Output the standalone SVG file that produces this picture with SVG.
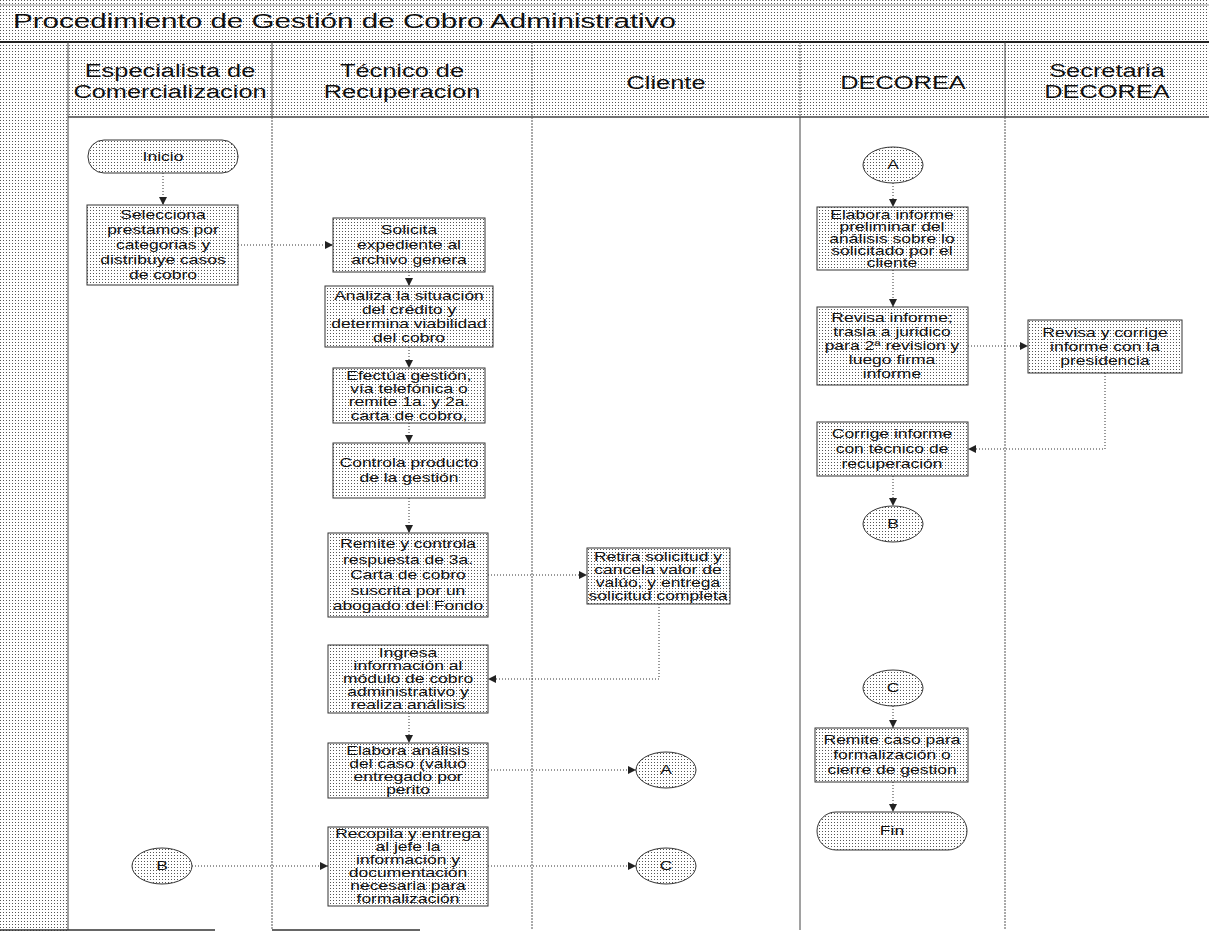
<svg xmlns="http://www.w3.org/2000/svg" width="1209" height="933" viewBox="0 0 1209 933">
<defs>
<pattern id="st" width="3" height="3" patternUnits="userSpaceOnUse"><rect width="3" height="3" fill="#fff"/><rect width="1" height="1" fill="#555"/></pattern>
<marker id="ah" markerWidth="8" markerHeight="8" refX="8" refY="4" orient="auto" markerUnits="userSpaceOnUse"><path d="M0,0 L8,4 L0,8 z" fill="#222"/></marker>
</defs>
<style>
.t{font-family:"Liberation Sans",Arial,sans-serif;font-size:12.5px;fill:#111;text-anchor:middle}
.h{font-family:"Liberation Sans",Arial,sans-serif;font-size:18px;fill:#111;text-anchor:middle}
.ttl{font-family:"Liberation Sans",Arial,sans-serif;font-size:21px;fill:#111}
.box{fill:url(#st);stroke:#333;stroke-width:1}
.c{fill:none;stroke:#333;stroke-width:1;stroke-dasharray:1 2;marker-end:url(#ah)}
.ls{stroke:#444;stroke-width:1}
.ld{stroke:#555;stroke-width:1;stroke-dasharray:2 1}
</style>
<rect width="1209" height="933" fill="#fff"/>
<g id="background">
<rect x="0" y="0" width="1209" height="117" fill="url(#st)"/>
<rect x="0" y="117" width="68" height="816" fill="url(#st)"/>
<line x1="0" y1="5" x2="1209" y2="5" stroke="#999"/>
<line x1="0" y1="42" x2="1209" y2="42" stroke="#222" stroke-width="2"/>
<line x1="68" y1="117" x2="1209" y2="117" stroke="#444" stroke-width="1.5"/>
<line class="ls" x1="68" y1="42" x2="68" y2="930"/>
<line class="ls" x1="272" y1="42" x2="272" y2="117"/>
<line class="ld" x1="272" y1="117" x2="272" y2="930"/>
<line class="ld" x1="532" y1="42" x2="532" y2="930"/>
<line class="ld" x1="800" y1="42" x2="800" y2="117"/>
<line class="ls" x1="800" y1="117" x2="800" y2="930"/>
<line class="ls" x1="1005" y1="42" x2="1005" y2="117"/>
<line class="ld" x1="1005" y1="117" x2="1005" y2="930"/>
<line x1="0" y1="930" x2="215" y2="930" stroke="#333" stroke-width="1.5"/>
<line x1="272" y1="930" x2="420" y2="930" stroke="#333" stroke-width="1.5"/>
</g>
<g id="title"><text class="ttl" transform="translate(13 0) scale(1.41 1)" x="0" y="28">Procedimiento de Gestión de Cobro Administrativo</text></g>
<g id="headers">
<text class="h" transform="translate(170 0) scale(1.41 1)"><tspan x="0" y="77">Especialista de</tspan><tspan x="0" y="98">Comercializacion</tspan></text>
<text class="h" transform="translate(402 0) scale(1.41 1)"><tspan x="0" y="77">Técnico de</tspan><tspan x="0" y="98">Recuperacion</tspan></text>
<text class="h" transform="translate(666 0) scale(1.41 1)" x="0" y="89">Cliente</text>
<text class="h" transform="translate(903 0) scale(1.41 1)" x="0" y="89">DECOREA</text>
<text class="h" transform="translate(1107 0) scale(1.41 1)"><tspan x="0" y="77">Secretaria</tspan><tspan x="0" y="98">DECOREA</tspan></text>
</g>
<g id="connectors">
<path class="c" d="M163,173 V205"/>
<path class="c" d="M238,245 H333"/>
<path class="c" d="M409,272 V286"/>
<path class="c" d="M409,347 V368"/>
<path class="c" d="M409,423 V443"/>
<path class="c" d="M409,498 V533"/>
<path class="c" d="M488,575 H587"/>
<path class="c" d="M659,604 V679 H488"/>
<path class="c" d="M409,713 V743"/>
<path class="c" d="M488,770 H636"/>
<path class="c" d="M192,866 H328"/>
<path class="c" d="M488,866 H636"/>
<path class="c" d="M893,183 V207"/>
<path class="c" d="M893,270 V307"/>
<path class="c" d="M968,346 H1028"/>
<path class="c" d="M1105,373 V449 H968"/>
<path class="c" d="M893,476 V506"/>
<path class="c" d="M893,706 V728"/>
<path class="c" d="M893,782 V812"/>
</g>
<g id="inicio"><rect class="box" x="88" y="140" width="150" height="33" rx="16"/><text class="t" transform="translate(163 0) scale(1.4 1)" x="0" y="161">Inicio</text></g>
<g id="selecciona"><rect class="box" x="87" y="205" width="151" height="80"/><text class="t" transform="translate(163 0) scale(1.4 1)"><tspan x="0" y="219.5">Selecciona</tspan><tspan x="0" y="234.5">prestamos por</tspan><tspan x="0" y="249.5">categorias y</tspan><tspan x="0" y="264.5">distribuye casos</tspan><tspan x="0" y="279.5">de cobro</tspan></text></g>
<g id="b1"><ellipse class="box" cx="162" cy="866" rx="30" ry="18"/><text class="t" transform="translate(162 0) scale(1.4 1)" x="0" y="870.5">B</text></g>
<g id="solicita"><rect class="box" x="333" y="218" width="152" height="54"/><text class="t" transform="translate(409 0) scale(1.4 1)"><tspan x="0" y="234.5">Solicita</tspan><tspan x="0" y="249.5">expediente al</tspan><tspan x="0" y="264.5">archivo genera</tspan></text></g>
<g id="analiza"><rect class="box" x="325" y="286" width="168" height="61"/><text class="t" transform="translate(409 0) scale(1.4 1)"><tspan x="0" y="300">Analiza la situación</tspan><tspan x="0" y="314">del crédito y</tspan><tspan x="0" y="328">determina viabilidad</tspan><tspan x="0" y="342">del cobro</tspan></text></g>
<g id="efectua"><rect class="box" x="333" y="368" width="152" height="55"/><text class="t" transform="translate(409 0) scale(1.4 1)"><tspan x="0" y="380.5">Efectúa gestión,</tspan><tspan x="0" y="393.5">vía telefónica o</tspan><tspan x="0" y="406.5">remite 1a. y 2a.</tspan><tspan x="0" y="419.5">carta de cobro,</tspan></text></g>
<g id="controla"><rect class="box" x="333" y="443" width="152" height="55"/><text class="t" transform="translate(409 0) scale(1.4 1)"><tspan x="0" y="467.5">Controla producto</tspan><tspan x="0" y="482.5">de la gestión</tspan></text></g>
<g id="remite"><rect class="box" x="328" y="533" width="160" height="84"/><text class="t" transform="translate(408 0) scale(1.4 1)"><tspan x="0" y="548.5">Remite y controla</tspan><tspan x="0" y="564">respuesta de 3a.</tspan><tspan x="0" y="579.5">Carta de cobro</tspan><tspan x="0" y="595">suscrita por un</tspan><tspan x="0" y="610.5">abogado del Fondo</tspan></text></g>
<g id="ingresa"><rect class="box" x="328" y="645" width="160" height="68"/><text class="t" transform="translate(408 0) scale(1.4 1)"><tspan x="0" y="657.5">Ingresa</tspan><tspan x="0" y="670.5">información al</tspan><tspan x="0" y="683.5">módulo de cobro</tspan><tspan x="0" y="696.5">administrativo y</tspan><tspan x="0" y="709.5">realiza análisis</tspan></text></g>
<g id="elabora-analisis"><rect class="box" x="328" y="743" width="160" height="55"/><text class="t" transform="translate(408 0) scale(1.4 1)"><tspan x="0" y="755.5">Elabora análisis</tspan><tspan x="0" y="768.5">del caso (valuó</tspan><tspan x="0" y="781.5">entregado por</tspan><tspan x="0" y="794.5">perito</tspan></text></g>
<g id="recopila"><rect class="box" x="328" y="827" width="160" height="79"/><text class="t" transform="translate(408 0) scale(1.4 1)"><tspan x="0" y="838.5">Recopila y entrega</tspan><tspan x="0" y="851.5">al jefe la</tspan><tspan x="0" y="864.5">información y</tspan><tspan x="0" y="877.5">documentación</tspan><tspan x="0" y="890.5">necesaria para</tspan><tspan x="0" y="903.5">formalización</tspan></text></g>
<g id="retira"><rect class="box" x="587" y="548" width="143" height="56"/><text class="t" transform="translate(658 0) scale(1.4 1)"><tspan x="0" y="561">Retira solicitud y</tspan><tspan x="0" y="574">cancela valor de</tspan><tspan x="0" y="587">valúo, y entrega</tspan><tspan x="0" y="600">solicitud completa</tspan></text></g>
<g id="a1"><ellipse class="box" cx="666" cy="770" rx="30" ry="18"/><text class="t" transform="translate(666 0) scale(1.4 1)" x="0" y="774.5">A</text></g>
<g id="c1"><ellipse class="box" cx="666" cy="866" rx="30" ry="18"/><text class="t" transform="translate(666 0) scale(1.4 1)" x="0" y="870.5">C</text></g>
<g id="a2"><ellipse class="box" cx="893" cy="165" rx="30" ry="18"/><text class="t" transform="translate(893 0) scale(1.4 1)" x="0" y="169.5">A</text></g>
<g id="elabora-informe"><rect class="box" x="817" y="207" width="151" height="63"/><text class="t" transform="translate(892 0) scale(1.4 1)"><tspan x="0" y="219">Elabora  informe</tspan><tspan x="0" y="231">preliminar del</tspan><tspan x="0" y="243">análisis sobre lo</tspan><tspan x="0" y="255">solicitado por el</tspan><tspan x="0" y="267">cliente</tspan></text></g>
<g id="revisa-informe"><rect class="box" x="817" y="307" width="151" height="78"/><text class="t" transform="translate(892 0) scale(1.4 1)"><tspan x="0" y="322.5">Revisa informe;</tspan><tspan x="0" y="336.5">trasla a juridico</tspan><tspan x="0" y="350.5">para 2ª revision y</tspan><tspan x="0" y="364.5">luego firma</tspan><tspan x="0" y="378.5">informe</tspan></text></g>
<g id="revisa-corrige"><rect class="box" x="1028" y="320" width="154" height="53"/><text class="t" transform="translate(1105 0) scale(1.4 1)"><tspan x="0" y="337">Revisa y corrige</tspan><tspan x="0" y="351">informe con la</tspan><tspan x="0" y="365">presidencia</tspan></text></g>
<g id="corrige"><rect class="box" x="817" y="422" width="151" height="54"/><text class="t" transform="translate(892 0) scale(1.4 1)"><tspan x="0" y="438.5">Corrige informe</tspan><tspan x="0" y="453.5">con técnico de</tspan><tspan x="0" y="468.5">recuperación</tspan></text></g>
<g id="b2"><ellipse class="box" cx="893" cy="524" rx="30" ry="18"/><text class="t" transform="translate(893 0) scale(1.4 1)" x="0" y="528.5">B</text></g>
<g id="c2"><ellipse class="box" cx="893" cy="688" rx="30" ry="18"/><text class="t" transform="translate(893 0) scale(1.4 1)" x="0" y="692.5">C</text></g>
<g id="remite-caso"><rect class="box" x="815" y="728" width="153" height="54"/><text class="t" transform="translate(892 0) scale(1.4 1)"><tspan x="0" y="744.5">Remite caso para</tspan><tspan x="0" y="759.5">formalización o</tspan><tspan x="0" y="774.5">cierre de gestion</tspan></text></g>
<g id="fin"><rect class="box" x="817" y="812" width="150" height="38" rx="19"/><text class="t" transform="translate(892 0) scale(1.4 1)" x="0" y="835.5">Fin</text></g>
</svg>
